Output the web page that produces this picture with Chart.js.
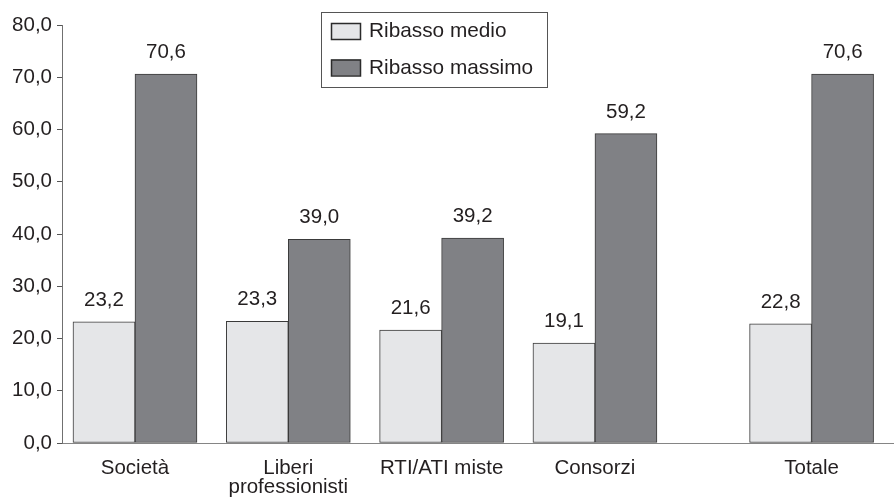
<!DOCTYPE html>
<html>
<head>
<meta charset="utf-8">
<script src="https://cdn.jsdelivr.net/npm/chart.js@4/dist/chart.umd.min.js"></script>
<style>
  html, body { margin: 0; padding: 0; background: #ffffff; }
  #wrap { width: 894px; height: 499px; position: relative; }
</style>
</head>
<body>
<div id="wrap"><canvas id="c" width="894" height="499"></canvas></div>
<script>
// ---- Data ----
const categories = ["Società", ["Liberi", "professionisti"], "RTI/ATI miste", "Consorzi", "Totale"];
const seriesNames = ["Ribasso medio", "Ribasso massimo"];
const ribassoMedio = [23.2, 23.3, 21.6, 19.1, 22.8];
const ribassoMassimo = [70.6, 39.0, 39.2, 59.2, 70.6];
const yTicks = [0, 10, 20, 30, 40, 50, 60, 70, 80];

// ---- Layout helpers (category placement: last group separated by an extra gap) ----
const extraGapBeforeLast = 0.413;
const catPos = categories.map((c, i) => i + 1 + (i === categories.length - 1 ? extraGapBeforeLast : 0));

const FONT = "'Liberation Sans', Arial, Helvetica, sans-serif";
const TEXT = '#231f20';
const fmt = v => v.toFixed(1).replace('.', ',');

const labelPlugin = {
  id: 'barLabels',
  afterDatasetsDraw(chart) {
    const ctx = chart.ctx;
    ctx.save();
    ctx.font = '20.5px ' + FONT;
    ctx.fillStyle = TEXT;
    ctx.textAlign = 'center';
    ctx.textBaseline = 'alphabetic';
    chart.data.datasets.forEach((ds, di) => {
      const meta = chart.getDatasetMeta(di);
      meta.data.forEach((el, i) => {
        ctx.fillText(fmt(ds.data[i].y), el.x, el.y - 16);
      });
    });
    ctx.restore();
  }
};

const boxLegendPlugin = {
  id: 'boxLegend',
  afterDraw(chart) {
    const ctx = chart.ctx;
    const bx = 321, by = 12, bw = 226, bh = 75;
    ctx.save();
    ctx.fillStyle = '#ffffff';
    ctx.fillRect(bx, by, bw, bh);
    ctx.strokeStyle = '#555555';
    ctx.lineWidth = 1;
    ctx.strokeRect(bx + 0.5, by + 0.5, bw, bh);
    ctx.font = '20.8px ' + FONT;
    ctx.textAlign = 'left';
    ctx.textBaseline = 'alphabetic';
    chart.data.datasets.forEach((ds, i) => {
      const sy = 23 + i * 36.5;
      ctx.fillStyle = ds.backgroundColor;
      ctx.fillRect(331, sy, 30, 16);
      ctx.strokeStyle = '#2b2b2b';
      ctx.lineWidth = 1.5;
      ctx.strokeRect(331.5, sy + 0.5, 29, 16);
      ctx.fillStyle = TEXT;
      ctx.fillText(ds.label, 369, 37 + i * 37);
    });
    ctx.restore();
  }
};

const mk = arr => arr.map((v, i) => ({ x: catPos[i], y: v }));

new Chart(document.getElementById('c'), {
  type: 'bar',
  data: {
    datasets: [
      { label: seriesNames[0], data: mk(ribassoMedio), backgroundColor: '#e5e6e8', borderColor: '#3a3a3a', borderWidth: 1, borderSkipped: false },
      { label: seriesNames[1], data: mk(ribassoMassimo), backgroundColor: '#808185', borderColor: '#3a3a3a', borderWidth: 1, borderSkipped: false }
    ]
  },
  options: {
    responsive: false,
    animation: false,
    devicePixelRatio: 1,
    barThickness: 62,
    layout: { padding: { top: 25, right: 1, left: 0, bottom: 0 } },
    plugins: { legend: { display: false }, tooltip: { enabled: false } },
    scales: {
      x: {
        type: 'linear',
        offset: false,
        min: 0.524,
        max: 5.944,
        grid: { display: false },
        border: { display: true, color: '#858585', width: 1 },
        afterBuildTicks: s => { s.ticks = catPos.map(v => ({ value: v })); },
        afterFit: s => { s.height = 56; },
        ticks: {
          autoSkip: false,
          maxRotation: 0,
          padding: 8,
          color: TEXT,
          font: { family: FONT, size: 20.5, lineHeight: 0.93 },
          callback: (v) => { const i = catPos.indexOf(v); return i >= 0 ? categories[i] : ''; }
        }
      },
      y: {
        min: 0,
        max: 80,
        afterBuildTicks: s => { s.ticks = yTicks.map(v => ({ value: v })); },
        afterFit: s => { s.width = 62; },
        grid: { drawOnChartArea: false, drawTicks: true, tickLength: 5, color: '#555555' },
        border: { display: true, color: '#707070', width: 1 },
        ticks: {
          padding: 5,
          color: TEXT,
          font: { family: FONT, size: 20.5 },
          callback: v => fmt(v)
        }
      }
    }
  },
  plugins: [labelPlugin, boxLegendPlugin]
});
</script>
</body>
</html>
